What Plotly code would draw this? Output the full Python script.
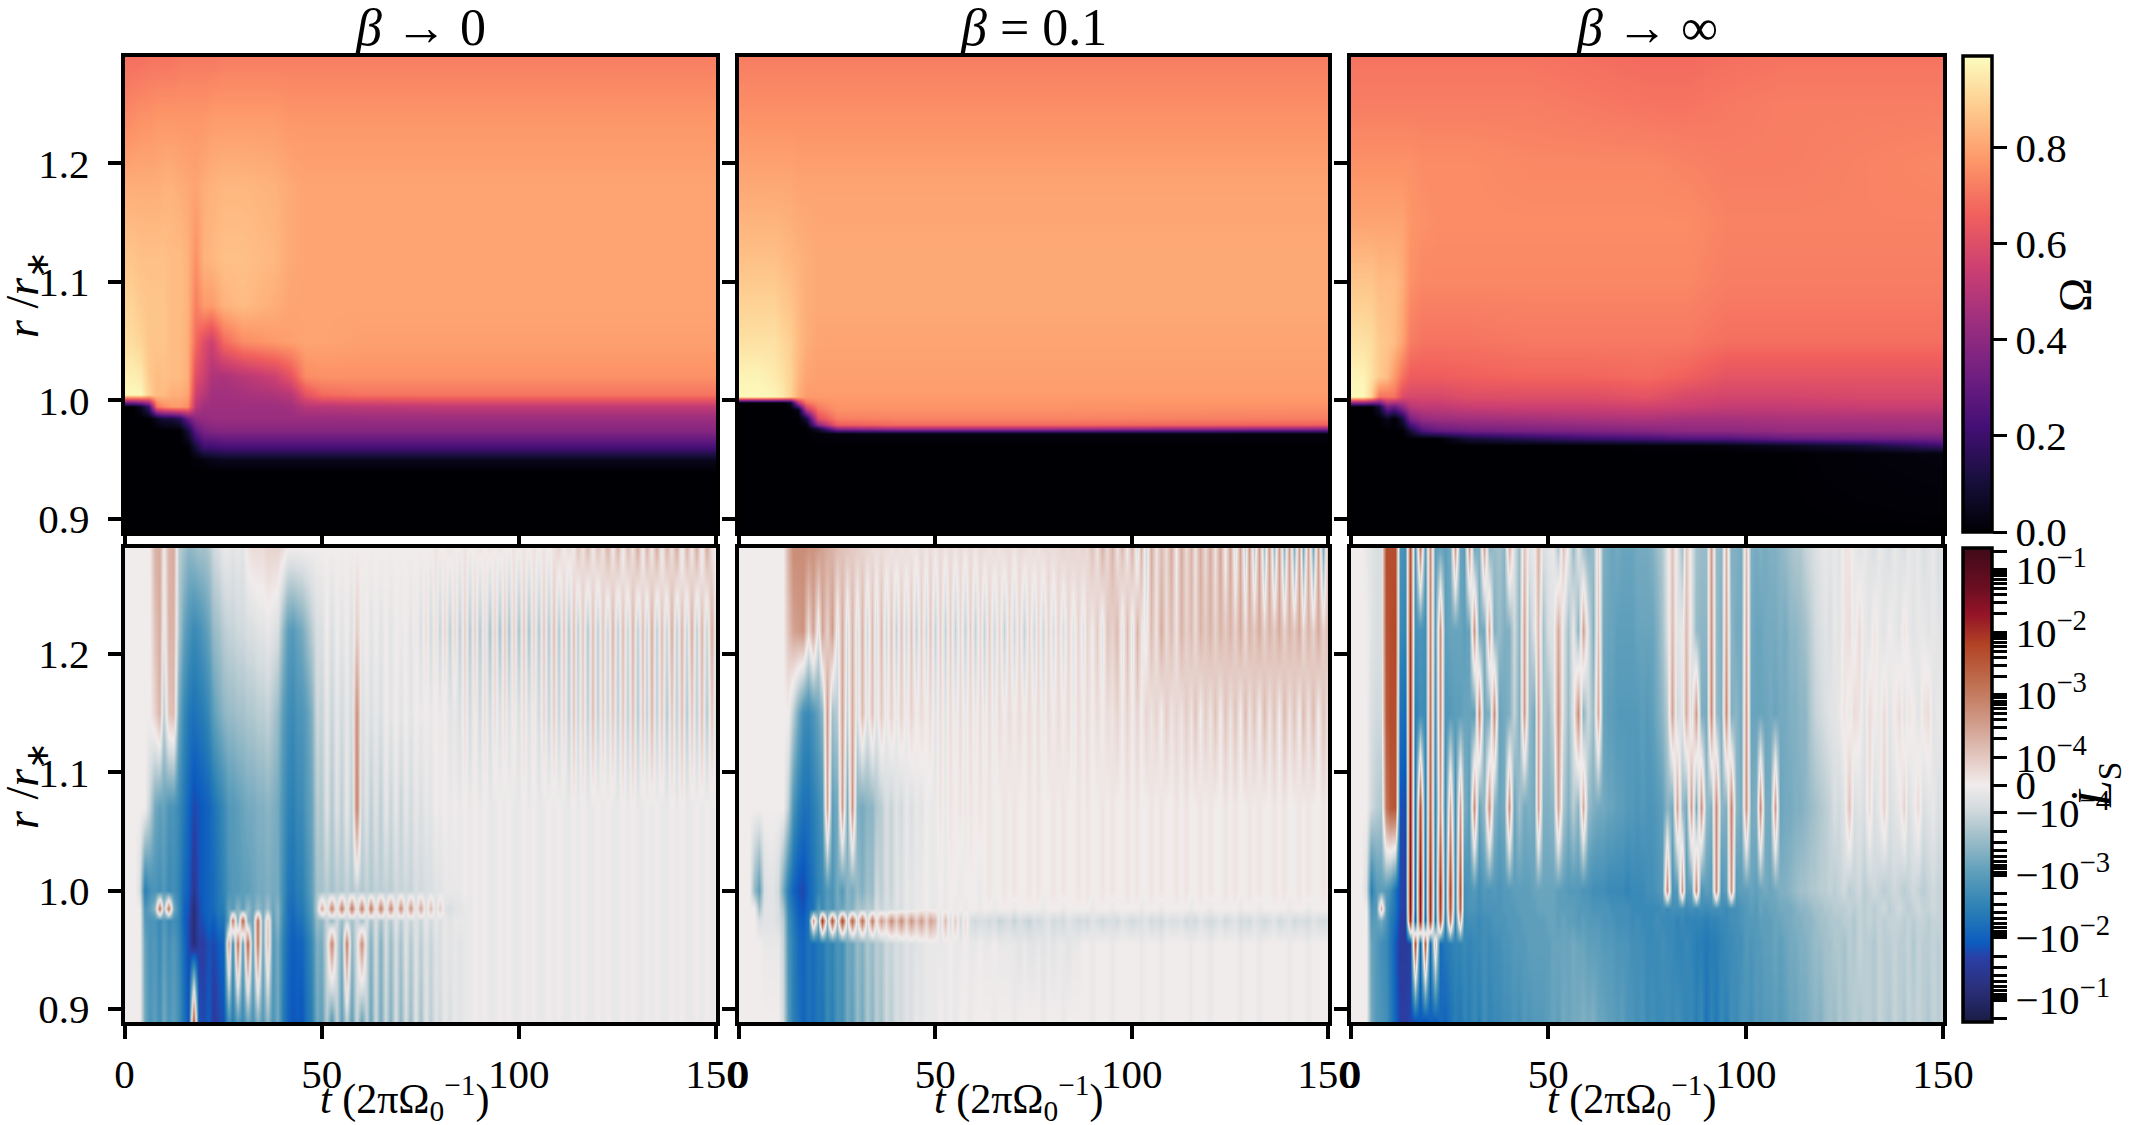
import math
import plotly.graph_objects as go

W, H = 2130, 1125
FONT = "Liberation Serif"

# ---------- upper row: Omega(t, r) ----------
T_O1 = [0,2,4,6,8,10,12,14,16,18,20,22,25,30,38,42,46,50,60,80,100,125,150]
R_O1 = [.89,.94,.95,.96,.975,.985,.995,1.005,1.02,1.05,1.08,1.12,1.18,1.24,1.29]
OMEGA_1 = [
 [0]*23,
 [0]*23,
 [0,0,0,0,0,0,0,0,0,.01,.02,.04,.05,.05,.05,.05,.05,.05,.05,.05,.05,.05,.05],
 [0,0,0,0,0,0,0,0,0,.1,.2,.2,.22,.22,.22,.22,.22,.22,.22,.22,.22,.22,.22],
 [0,0,0,0,0,0,0,0,.1,.28,.35,.37,.38,.38,.38,.38,.38,.38,.38,.38,.38,.38,.38],
 [0,0,0,0,.05,.1,.1,.15,.3,.4,.42,.43,.43,.43,.43,.43,.43,.43,.43,.43,.43,.43,.43],
 [0,0,.05,.2,.7,.75,.78,.78,.75,.5,.45,.44,.44,.44,.44,.45,.5,.5,.51,.52,.52,.52,.52],
 [.98,.98,.98,.9,.85,.85,.82,.82,.8,.55,.5,.45,.45,.46,.48,.5,.62,.68,.7,.7,.7,.7,.7],
 [.96,.96,.95,.88,.85,.86,.85,.85,.82,.6,.55,.48,.47,.5,.55,.62,.75,.76,.76,.76,.76,.76,.76],
 [.92,.92,.9,.87,.87,.87,.85,.85,.82,.68,.6,.55,.68,.75,.78,.79,.8,.8,.79,.79,.79,.79,.79],
 [.9,.9,.88,.87,.87,.87,.85,.85,.83,.72,.78,.78,.83,.85,.82,.8,.8,.8,.8,.8,.8,.8,.8],
 [.87,.87,.86,.86,.86,.86,.85,.85,.83,.76,.83,.84,.86,.86,.84,.81,.8,.8,.8,.8,.8,.8,.8],
 [.82,.82,.82,.82,.82,.83,.83,.82,.81,.8,.82,.83,.84,.84,.83,.81,.8,.8,.8,.8,.8,.8,.8],
 [.74,.75,.76,.76,.77,.77,.77,.77,.77,.77,.77,.78,.78,.78,.78,.77,.77,.77,.77,.77,.77,.77,.77],
 [.69,.69,.69,.7,.7,.7,.7,.71,.71,.71,.71,.71,.72,.72,.72,.72,.72,.72,.72,.72,.72,.72,.72],
]

T_O2 = [0,3,5,7,9,11,13,15,17,20,25,40,80,150]
R_O2 = [.89,.96,.972,.976,.98,.985,.992,.998,1.003,1.02,1.05,1.08,1.12,1.18,1.24,1.29]
OMEGA_2 = [
 [0]*14,
 [0]*14,
 [0,0,0,0,0,0,0,0,0,.01,.02,.02,.02,.02],
 [0,0,0,0,0,0,0,0,0,.1,.4,.45,.45,.4],
 [0,0,0,0,0,0,0,0,.02,.4,.65,.68,.68,.66],
 [0,0,0,0,0,0,0,0,.1,.6,.72,.73,.73,.72],
 [0,0,0,0,0,0,0,.03,.5,.7,.76,.76,.76,.75],
 [0,0,0,0,0,0,.05,.5,.7,.75,.77,.77,.77,.77],
 [.98,.98,.98,.98,.97,.95,.9,.82,.78,.78,.78,.78,.78,.78],
 [.97,.97,.97,.96,.95,.93,.9,.84,.8,.79,.79,.79,.79,.79],
 [.93,.93,.93,.93,.93,.91,.89,.85,.82,.8,.8,.8,.8,.8],
 [.9,.9,.9,.9,.9,.88,.87,.84,.82,.81,.81,.81,.81,.81],
 [.86,.86,.86,.86,.86,.85,.84,.83,.82,.81,.81,.81,.81,.81],
 [.81,.81,.81,.81,.81,.81,.81,.8,.8,.8,.8,.8,.8,.8],
 [.76,.76,.76,.76,.76,.76,.76,.76,.76,.76,.76,.76,.76,.76],
 [.72,.72,.72,.72,.72,.72,.72,.72,.72,.72,.72,.72,.72,.72],
]

T_O3 = [0,3,5,7,9,11,13,15,18,22,30,45,60,75,85,95,110,130,150]
R_O3 = [.89,.955,.962,.968,.975,.985,.995,1.003,1.02,1.05,1.1,1.15,1.2,1.25,1.29]
OMEGA_3 = [
 [0]*19,
 [0,0,0,0,0,0,0,0,0,0,0,0,0,0,0,0,0,.01,.02],
 [0,0,0,0,0,0,0,0,0,0,0,0,0,.01,.01,.02,.05,.1,.2],
 [0,0,0,0,0,0,0,0,0,0,.1,.15,.2,.22,.25,.25,.3,.32,.33],
 [0,0,0,0,0,0,0,.1,.25,.3,.33,.35,.36,.38,.4,.4,.42,.42,.43],
 [0,0,0,0,.05,0,.1,.35,.42,.44,.45,.46,.47,.48,.46,.46,.47,.47,.47],
 [0,0,0,.1,.35,.3,.4,.5,.52,.52,.54,.55,.55,.56,.55,.53,.53,.54,.54],
 [.98,.98,.9,.7,.7,.7,.6,.58,.58,.58,.6,.6,.6,.62,.58,.57,.57,.58,.58],
 [.97,.97,.93,.88,.85,.78,.7,.65,.65,.65,.66,.67,.67,.68,.66,.62,.62,.62,.62],
 [.93,.93,.92,.88,.87,.85,.8,.72,.7,.7,.7,.71,.71,.71,.71,.69,.69,.69,.69],
 [.87,.87,.87,.85,.85,.85,.82,.76,.74,.74,.74,.74,.74,.74,.74,.72,.72,.72,.72],
 [.8,.8,.8,.8,.8,.8,.8,.77,.76,.75,.75,.75,.75,.75,.75,.73,.73,.73,.73],
 [.76,.76,.76,.76,.76,.76,.76,.76,.75,.75,.75,.74,.74,.74,.73,.72,.72,.73,.74],
 [.72,.72,.72,.72,.72,.72,.72,.72,.72,.72,.72,.72,.71,.7,.7,.71,.72,.72,.72],
 [.7,.7,.7,.7,.7,.7,.7,.7,.7,.7,.7,.7,.69,.68,.68,.69,.7,.7,.7],
]

# ---------- lower row: L_S(t, r), read as position on the symlog colour scale, in tenths ----------
T_L = [i * 1.25 for i in range(121)]   # time columns, every 1.25 units
R_L = [.89,.955,.975,.985,1.0,1.07,1.15,1.22,1.29]

Z10 = [0,0,0,0,0,0,0,0,0,0]
Q1 = [-1,0,-1,0,-1,-1,0,-1,0,-1]
Q2 = [0,0,-1,0,0,0,-1,0,0,0]
P2 = [0,1,0,0,1,0,1,0,0,1]

LS_1 = [
 [0,0,0,0,-12,-16,-14,-17,-12,-16, -14,-17,-22,-26,20,-26,-27,-25,-29,-27, -26,-16,-20,-14,-18,-12,-16,-10,-15,-9,
  -16,-12,-20,-24,-26,-25,-26,-22,-20,-12, -14,-6,-15,-5,-14,-5,-14,-4,-13,-5, -13,-4,-12,-4,-11,-3,-10,-3,-9,-2,
  -8,-2,-6,-2,-4,-1,-3,-1,-2,-1] + Q1*5 + [0],
 [0,0,0,0,-13,-16,-15,-18,-14,-17, -15,-18,-23,-27,-33,-28,-28,-26,-27,-25, -24,10,-18,16,-15,18,-14,15,-13,6,
  -15,-12,-19,-23,-25,-24,-24,-21,-18,-11, -12,-4,13,-4,-12,14,-10,-3,12,-4, -11,-3,-11,-3,-9,-3,-8,-2,-7,-2,
  -6,-2,-5,-2,-3,-1,-2,-1,-2,-1] + Q1*5 + [0],
 [0,0,0,0,-15,-16,-16,-18,-15,-18, -17,-19,-24,-27,-33,-27,-26,-24,-25,-22, -22,-12,15,-12,18,-10,-13,16,-12,5,
  -14,-10,-18,-22,-24,-22,-22,-19,-16,-9, -10,-5,-9,-4,-9,-4,-8,-4,-8,-3, -8,-3,-8,-3,-7,-2,-6,-2,-5,-2,
  -5,-1,-4,-1,-3,-1,-2,-1,-1,-1] + Q1*5 + [0],
 [0,0,0,0,-16,-14,-10,16,-8,15, -12,-18,-24,-26,-33,-27,-25,-24,-23,-21, -20,-13,-15,-10,-14,-9,-13,-9,-12,-8,
  -13,-10,-17,-22,-23,-21,-21,-18,-15,-6, 8,-2,13,-2,14,-3,15,-2,14,-3, 15,-2,14,-2,13,-3,12,-3,11,-3,
  9,-3,6,-3,4,-2,-3,-2,-2,-1] + Q1*5 + [0],
 [0,0,0,-3,-20,-17,-16,-17,-15,-18, -17,-19,-23,-25,-30,-26,-25,-24,-23,-21, -19,-16,-15,-15,-14,-14,-13,-12,-12,-11,
  -12,-12,-17,-21,-22,-20,-20,-17,-14,-8, -8,-6,-8,-6,-7,-5,-7,-5,-7,-5, -7,-5,-6,-5,-6,-4,-5,-4,-5,-3,
  -4,-3,-3,-2,-2,-1,-1,-1,-1,0] + Q1*5 + [0],
 [0,0,0,0,0,-5,-12,-14,-13,-16, -16,-18,-21,-24,-27,-26,-25,-24,-22,-20, -18,-15,-15,-14,-13,-12,-12,-11,-11,-10,
  -11,-12,-16,-19,-20,-18,-18,-15,-13,-6, -7,-2,-7,-2,-6,-1,-6,14,-5,-2, -6,-2,-6,-1,-5,-1,-5,-1,-4,-1,
  -3,-1,-2,0,-1,0,-1,0,-1,0] + Q1*5 + [0],
 [0,0,0,0,0,0,3,7,-6,5, 6,-12,-18,-21,-22,-21,-20,-18,-14,-12, -10,-9,-9,-8,-8,-7,-7,-6,-6,-5,
  -7,-9,-14,-17,-18,-16,-16,-14,-11,-4, -5,-1,-5,-1,-4,-1,-4,12,-3,-1, -3,-1,-3,0,-2,0,-2,0,-2,0,
  -1,0,-1,0,-1,0,-2,-1,-3,2, -4,1,-4,2,-4,2,-3,2,-3,1, -3,2,-3,1,-4,3,-5,4,-5,3,
  -6,5,-5,4,-6,6,-6,4,-5,5, -6,5,-6,6,-7,5,-6,7,-6,5, -7,5,-6,6,-7,5,-6,6,-7,5, -5],
 [0,0,0,0,0,0,5,8,-2,7, 7,-7,-13,-16,-18,-17,-15,-13,-9,-8, -6,-5,-5,-4,-4,-3,-3,-2,-2,-1,
  -2,-3,-9,-14,-15,-13,-12,-9,-6,-3, -3,0,-3,0,-2,0,-3,4,-1,0, -2,0,-2,0,-2,0,-1,0,-2,1,
  -3,2,-4,2,-5,3,-6,3,-6,4, -7,4,-7,3,-8,4,-8,5,-8,4, -8,5,-8,4,-7,5,-7,6,-7,5,
  -7,6,-6,5,-7,6,-6,5,-5,7, -6,6,-5,7,-6,6,-5,8,-6,6, -5,8,-6,7,-5,8,-6,7,-5,8, -4],
 [0,0,0,0,0,0,7,8,0,7, 8,-6,-8,-10,-9,-8,-8,-7,-4,-3, -1,-1,-2,-1,-2,1,2,2,2,3,
  3,3,2,0,0,0,0,0,0,0] + Z10*2 +
 [0,0,0,1,0,0,1,0,0,1, 0,0,1,0,1,0,1,0,0,1, 0,1,0,1,0,1,0,1,3,0,
  2,0,5,1,6,0,5,1,7,0, 7,-1,6,1,8,-1,7,0,8,-1, 7,1,8,-2,7,0,8,-2,8,1, 0],
]

LS_2 = [
 [0,0,0,0,0,0,0,0,0,-4, -15,-20,-22,-24,-22,-23,-21,-22,-18,-20, -16,-17,-12,-14,-9,-12,-7,-10,-6,-8,
  -4,-6,-3,-4,-2,-3,-1,-2,-1,-1, -1,0,-1,0,-1,0,0,-1,0,0] + Q2*7 + [0],
 [0,0,0,0,0,-1,-1,-1,-1,-5, -16,-20,-23,-24,-22,-23,-21,-21,-18,-19, -16,-17,-12,-13,-9,-11,-7,-9,-6,-7,
  -4,-5,-3,-4,-2,-3,-2,-2,-1,-1, -1,-1,-1,0,-1,-1,0,-1,-1,0, -1,-1,0,-1,-1,-1,-1,-2,-1,-2,
  -2,-1,-2,-1,-2,-1,-1,-2,-1,-1] + Q2*5 + [0],
 [0,0,0,0,-3,-2,-2,-2,-3,-6, -17,-21,-24,-25,-22,10,-10,24,-8,20, -6,22,-4,18,-2,16,-3,14,0,10,
  3,12,4,12,3,11,4,10,3,9, 6,-3,6,-3,4,-4,2,-3,-4,-3, -3,-4,-3,-5,-4,-3,-5,-3,-4,-5,
  -3,-4,-3,-2,-4,-3,-4,-2,-3,-4, -3,-4,-2,-3,-4,-3,-3,-4,-2,-3, -4,-3,-3,-2,-4,-3,-4,-2,-3,-3,
  -2,-4,-3,-4,-2,-3,-4,-3,-2,-4, -3,-2,-4,-3,-4,-2,-3,-4,-3,-2, -4,-3,-2,-4,-3,-3,-4,-2,-3,-4, -3],
 [0,0,0,0,-8,-2,-2,-2,-3,-8, -18,-22,-25,-26,-23,-22,-15,-18,-14,-16, -12,-13,-10,-11,-7,-8,-6,-7,-3,-5,
  -3,-4,-2,-3,-1,-2,-1,-1,0,-1, -1,0,-1,0,-1,0,-1,0,0,-1] + Q2*7 + [0],
 [0,0,0,-9,-14,-3,-2,-2,-4,-12, -20,-24,-26,-27,-24,-22,-19,-18,-15,-16, -12,-15,-10,-12,-9,-11,-8,-9,-4,-6,
  -3,-5,-2,-3,-1,-2,-1,-1,0,-1, -1,0,-1,0,0,-1,0,0,0,-1] + P2*7 + [0],
 Z10 + [-6,-16,-20,-22,-22,-20,-18,-16,9,-14, -12,10,-12,11,-11,-12,-10,-10,-7,-6,
  -3,-5,-2,-4,-1,-3,-1,-2,0,-1, -1,1,-1,1,0,1,-1,1,0,1] + P2*7 + [0],
 Z10 + [0,-6,-12,-17,-18,-16,-13,-10,10,-8, -6,9,-5,8,-3,6,-2,5,-2,4,
  -1,3,-1,3,-1,3,0,2,0,2, -2,2,-2,2,-1,2,-1,2,-1,2, -1,2,-1,2,0,2,0,2,0,2,
  0,2,-1,2,0,2,0,2,-1,2, 0,2,0,2,0,2,1,3,0,3, 0,3,0,3,1,3,0,4,1,3,
  1,4,1,5,0,4,1,5,0,5, 1,5,0,6,1,5,0,6,1,5, 0,6,1,5,0,6,1,6,0,5, 1],
 Z10 + [5,9,10,11,2,9,-2,9,3,10, -2,8,-3,7,-3,7,-4,6,-3,6,
  -4,5,-5,5,-4,5,-5,4,-4,5, -5,4,-5,4,-5,3,-5,4,-5,3, -5,4,-4,3,-5,3,-4,3,-5,3,
  -4,3,-4,3,-3,3,-3,3,-2,3, -2,3,0,4,-2,5,3,6,-2,6, -2,7,1,-1,6,1,8,2,6,1,
  7,3,6,2,7,4,7,3,7,4, 7,3,8,2,7,4,8,3,7,4, 8,3,7,4,8,2,7,3,8,3, 6],
 Z10 + [7,12,12,12,11,11,10,9,8,7, 6,5,5,4,4,3,3,2,2,2,
  2,1,2,1,2,1,1,2,1,2, 1,2,1,2,1,2,1,2,1,2, 2,1,2,1,2,2,1,2,2,1,
  2,1,2,2,2,2,3,2,3,2, 3,2,5,1,7,2,7,1,6,0, 7,-3,7,-4,8,1,6,2,8,0,
  8,2,7,1,8,2,8,1,9,-1, 9,-3,9,-5,10,-6,10,-8,10,-9, 10,-10,10,-11,10,-12,9,-12,10,-12, 9],
]

LS_3 = [
 [0,0,0,0,-12,-15,-16,-17,-20,-24, -28,-28,-27,-26,-25,-26,-24,-25,-23,-24, -22,-20,-21,-19,-20,-18,-20,-17,-19,-18,
  -18,-17,-17,-16,-17,-15,-16,-15,-15,-15, -14,-13,-14,-12,-13,-12,-12,-11,-12,-11, -13,-13,-14,-14,-15,-14,-16,-16,-17,-16,
  -18,-17,-18,-18,-17,-18,-17,-18,-19,-18, -20,-18,-22,-19,-21,-18,-20,-17,-18,-16, -16,-17,-15,-16,-15,-15,-14,-15,-14,-13,
  -13,-12,-12,-11,-10,-11,-9,-8,-9,-7, -8,-7,-6,-7,-6,-6,-7,-5,-6,-7, -5,-6,-7,-5,-6,-5,-6,-7,-5,-6, -5],
 [0,0,0,0,-13,-15,-17,-18,-21,-25, -29,-29,-28,20,-25,18,-24,5,-23,-21, -20,-19,-19,-18,-19,-18,-18,-17,-18,-17,
  -17,-16,-16,-15,-15,-15,-14,-14,-14,-14, -14,-13,-13,-13,-13,-12,-13,-13,-14,-14, -14,-15,-15,-15,-16,-16,-16,-17,-17,-17,
  -18,-18,-18,-17,-18,-18,-19,-19,-18,-19, -20,-20,-21,-20,-20,-19,-18,-18,-17,-17, -15,-16,-15,-15,-14,-14,-13,-14,-13,-12,
  -12,-11,-11,-10,-9,-9,-8,-8,-7,-7, -8,-6,-7,-5,-6,-6,-7,-5,-6,-6, -5,-6,-6,-5,-7,-5,-6,-6,-5,-6, -5],
 [0,0,0,0,-15,-14,-12,-16,-20,-23, -28,-29,26,-25,28,-23,24,-21,20,-20, 14,-19,8,-18,-17,-17,-18,-17,-17,-16,
  -16,-16,-15,-15,-15,-14,-14,-14,-14,-14, -13,-13,-14,-13,-14,-14,-15,-14,-15,-15, -15,-16,-16,-16,-17,-17,-17,-18,-17,-18,
  -18,-18,-17,-18,-18,-18,-19,-18,-19,-19, -19,-19,-20,-19,-19,-18,-18,-17,-17,-16, -15,-15,-15,-14,-14,-14,-13,-13,-12,-12,
  -11,-11,-10,-10,-9,-8,-8,-7,-7,-7, -6,-6,-7,-5,-6,-5,-6,-5,-6,-5, -5,-5,-6,-5,-6,-5,-5,-6,-5,-5, -5],
 [0,0,0,0,-16,-15,8,-15,-19,-22, -27,-28,29,-23,28,-22,25,-20,23,-19, 20,-18,18,-17,-16,-16,-17,-16,-16,-16,
  -16,-15,-15,-15,-14,-14,-14,-14,-13,-13, -13,-13,-14,-14,-14,-14,-15,-15,-15,-16, -16,-16,-16,-17,-17,-17,-17,-18,-18,-18,
  -18,-18,-18,-17,-18,-17,-17,-17,-18,-17, -18,-17,-18,-17,-17,-17,-18,-17,-17,-16, -15,-14,-15,-13,-14,-13,-13,-12,-12,-12,
  -11,-10,-10,-9,-8,-8,-7,-7,-6,-6, -6,-5,-6,-5,-6,-5,-6,-5,-4,-6, -5,-4,-5,-6,-5,-4,-5,-5,-4,-5, -5],
 [0,0,0,-3,-20,-15,-14,-15,-17,-22, -27,-28,30,-23,29,-22,25,-20,24,-19, 22,-18,20,-17,-16,-15,-17,-15,-16,-15,
  -16,-15,-15,-14,-14,-14,-14,-13,-13,-13, -13,-13,-14,-14,-15,-15,-15,-16,-16,-17, -17,-17,-18,-18,-18,-18,-19,-18,-18,-18,
  -17,-17,-16,-15,12,-16,-15,10,-15,-14, 12,-16,-14,-15,12,-16,-14,11,-15,-14, -14,-13,-14,-13,-12,-13,-12,-11,-11,-10,
  -9,-8,-8,-7,-7,-6,-6,-5,-6,-5, -4,-6,-5,-4,-6,-5,-4,-5,-6,-5, -4,-5,-6,-5,-4,-5,-6,-5,-4,-5, -5],
 [0,0,0,0,-4,-6,-7,15,19,20, -26,-27,27,-22,20,-20,18,-19,10,-18, 8,-17,9,-11,-14,12,-13,-9,11,-10,
  -13,-12,11,-13,-8,-12,-11,-12,9,-11, -11,-10,9,-7,-11,-6,-10,8,-9,-11, -12,-12,-13,-13,-14,-14,-15,-15,-16,-15,
  -16,-16,-15,-14,-10,-12,9,-9,-12,10, -12,11,-9,-11,12,-10,-11,13,-10,-12, 11,-12,-11,12,-12,-12,10,-13,-12,-12,
  -11,-11,-10,-9,-8,-7,-6,-5,-3,-4, -2,5,-3,-2,-3,2,-3,-1,3,-3, -2,-1,3,-3,-1,2,-3,-2,-1,-3, -2],
 [0,0,0,0,-3,-4,-4,19,21,21, -22,-23,25,-20,-17,-18,15,-17,12,-16, -15,-14,-14,-13,-13,-14,12,-12,-11,12,
  -13,-12,-11,-5,-11,10,-9,-12,9,-8, -9,-4,11,-3,-9,-2,12,-10,-4,-9, 8,-13,-14,-14,-15,-15,-15,-15,-15,-14,
  -15,-14,-12,-10,-6,9,-4,-2,8,-3, 10,-11,-12,12,-9,-11,12,-11,-10,-12, 10,-13,-13,-13,-13,-12,-13,-12,-12,-11,
  -11,-10,-10,-7,-5,-4,-3,-2,-2,-1, 1,-1,2,1,-2,2,0,-1,2,-2, 0,2,-2,1,0,-2,1,2,-2,-1, -2],
 [0,0,0,0,-2,-3,-3,20,21,22, -18,-19,23,-17,-16,-17,13,-15,11,-14, -13,-13,-13,-14,-13,11,-12,-12,8,-11,
  -9,-11,-11,-4,-10,9,-7,-2,6,-8, -3,-2,8,-2,-8,-1,-10,9,-3,-11, 5,-12,-13,-13,-14,-14,-14,-14,-13,-13,
  -13,-13,-11,-8,-3,6,-2,-1,6,-2, -9,-10,-10,11,-9,-11,9,-10,-12,-12, 8,-12,-13,-13,-12,-12,-12,-11,-12,-10,
  -10,-9,-8,-6,-4,-3,-2,-3,-1,-2, 1,2,-1,2,-1,-2,1,-1,-2,0, -1,-2,1,-1,-2,-1,-1,-2,-1,-2, -2],
 [0,0,0,-1,-2,-3,-3,21,21,21, -16,-17,20,-16,14,-15,12,-14,-13,-14, -12,10,-13,-14,10,-12,-11,9,-10,-9,
  -8,-10,7,-3,-9,5,-2,-1,7,-3, -2,-1,-7,5,-1,-9,-2,-8,-10,-9, 3,-11,-12,-13,-12,-13,-13,-13,-12,-12,
  -12,-11,-9,-7,-2,5,-2,-8,5,-2, -8,-9,-9,10,-9,-10,7,-11,-11,-12, 6,-11,-12,-11,-12,-11,-11,-10,-9,-8,
  -7,-7,-5,-4,-3,-2,-1,-2,-1,-2, 1,1,-1,-2,-1,-2,-3,-1,-2,-3, -1,-2,-3,-1,-2,-1,-3,-2,-1,-3, -2],
]
for _m in (LS_1, LS_2, LS_3):
    assert all(len(_r) == len(T_L) for _r in _m), [len(_r) for _r in _m]

TITLES = ["<i>β</i> → 0", "<i>β</i> = 0.1", "<i>β</i> → ∞"]
T_TICKS = [0, 50, 100, 150]
R_TICKS = [0.9, 1.0, 1.1, 1.2]
R_TICK_LABELS = ["0.9", "1.0", "1.1", "1.2"]
OMEGA_TICKS = [0.0, 0.2, 0.4, 0.6, 0.8]
OMEGA_MAX = 0.99

MAGMA = ["#000004","#180f3d","#440f76","#721f81","#9e2f7f","#cd4071","#f1605d","#fd9668","#feca8d","#fcfdbf"]
BALANCE = [(0,"#1a1c45"),(.07,"#2a2f7a"),(.135,"#2a3fa5"),(.167,"#0c5cc0"),(.238,"#2a80b5"),
           (.317,"#5f9fbb"),(.397,"#a6c2cb"),(.453,"#d5dcdf"),(.5,"#f1ecec"),(.557,"#e3c9c2"),
           (.636,"#cf9986"),(.715,"#bf6f50"),(.795,"#b24425"),(.859,"#951428"),(.914,"#6d0e22"),(1,"#3f0a18")]
LS_LIM = 3.79          # colour-scale half range, in symlog units
LINTHRESH, LINSCALE = 1e-4, 0.44

def symlog(v):
    if v == 0:
        return 0.0
    return math.copysign(math.log10(abs(v) / LINTHRESH) + LINSCALE, v)

major = [-1e-1, -1e-2, -1e-3, -1e-4, 0, 1e-4, 1e-3, 1e-2, 1e-1]
major_text = ["−10<sup>−1</sup>", "−10<sup>−2</sup>", "−10<sup>−3</sup>", "−10<sup>−4</sup>", "0",
              "10<sup>−4</sup>", "10<sup>−3</sup>", "10<sup>−2</sup>", "10<sup>−1</sup>"]
ls_vals, ls_text = [symlog(v) for v in major], list(major_text)
for e in (-4, -3, -2, -1):
    for m in range(2, 10):
        for sgn in (1, -1):
            v = sgn * m * 10.0 ** e
            if abs(symlog(v)) <= LS_LIM:
                ls_vals.append(symlog(v))
                ls_text.append("")

# ---------- geometry in page pixels ----------
PANEL_X = [(124.5, 716), (739, 1328), (1351, 1943)]
ROW_Y = [(56.5, 532), (547.5, 1022)]
CB_X = 1963
CB_W = 29

fx = lambda px: px / W
fy = lambda py: 1 - py / H
tickfont = dict(family=FONT, size=41, color="black")

fig = go.Figure()
AX = dict(showgrid=False, zeroline=False, showline=True, mirror=True, linecolor="black", linewidth=3.5,
          ticks="outside", ticklen=13, tickwidth=3.5, tickcolor="black", tickfont=tickfont)

OMEGA_SETS = [(T_O1, R_O1, OMEGA_1), (T_O2, R_O2, OMEGA_2), (T_O3, R_O3, OMEGA_3)]
LS_SETS = [LS_1, LS_2, LS_3]
layout = {}
for row in range(2):
    for col in range(3):
        n = row * 3 + col + 1
        xa, ya = f"xaxis{n}", f"yaxis{n}"
        layout[xa] = dict(AX, domain=[fx(PANEL_X[col][0]), fx(PANEL_X[col][1])], range=[0, 150],
                          tickvals=T_TICKS, ticktext=[str(t) for t in T_TICKS] if row else [""] * 4,
                          anchor=f"y{n}")
        layout[ya] = dict(AX, domain=[fy(ROW_Y[row][1]), fy(ROW_Y[row][0])], range=[0.889, 1.29],
                          tickvals=R_TICKS, ticktext=R_TICK_LABELS if col == 0 else [""] * 4,
                          anchor=f"x{n}", ticklabelstandoff=10)
        if row == 0:
            t, r, z = OMEGA_SETS[col]
            fig.add_trace(go.Heatmap(x=t, y=r, z=z, coloraxis="coloraxis", zsmooth="best",
                                     xaxis=f"x{n}", yaxis=f"y{n}"))
        else:
            z = [[c / 10 for c in line] for line in LS_SETS[col]]
            fig.add_trace(go.Heatmap(x=T_L, y=R_L, z=z, coloraxis="coloraxis2", zsmooth="best",
                                     xaxis=f"x{n}", yaxis=f"y{n}"))

def cbar(ytop, ybot, **kw):
    return dict(x=fx(CB_X), xanchor="left", xpad=0, ypad=0, thickness=CB_W, thicknessmode="pixels",
                y=fy(ybot), yanchor="bottom", len=(ybot - ytop) / H, lenmode="fraction",
                outlinecolor="black", outlinewidth=3.5, ticks="outside", ticklen=14, tickwidth=3,
                tickcolor="black", tickfont=tickfont, **kw)

layout["coloraxis"] = dict(cmin=0, cmax=OMEGA_MAX, colorscale=MAGMA,
                           colorbar=cbar(ROW_Y[0][0], ROW_Y[0][1], tickmode="array", tickvals=OMEGA_TICKS,
                                         ticktext=[f"{v:.1f}" for v in OMEGA_TICKS]))
layout["coloraxis2"] = dict(cmin=-LS_LIM, cmax=LS_LIM, colorscale=BALANCE,
                            colorbar=cbar(ROW_Y[1][0], ROW_Y[1][1], tickmode="array", tickvals=ls_vals,
                                          ticktext=ls_text))

ann = []
def text(x, y, s, size=41, angle=0):
    ann.append(dict(x=fx(x), y=fy(y), xref="paper", yref="paper", text=s, showarrow=False, textangle=angle,
                    xanchor="center", yanchor="middle", font=dict(family=FONT, size=size, color="black")))

for col in range(3):
    cx = sum(PANEL_X[col]) / 2
    text(cx, 27, TITLES[col], size=52)
    text(cx - 15, 1098, "<i>t</i> (2πΩ<sub>0</sub><sup>−1</sup>)", size=42)
text(26, 295, "<i>r</i> /<i>r</i><sub>∗</sub>", size=46, angle=-90)
text(26, 786, "<i>r</i> /<i>r</i><sub>∗</sub>", size=46, angle=-90)
text(2075, 295, "Ω", size=46, angle=-90)
text(2098, 785, "<i>L̇</i><sub>S</sub>", size=48, angle=-90)

fig.update_layout(width=W, height=H, margin=dict(l=0, r=0, t=0, b=0, autoexpand=False),
                  paper_bgcolor="white", plot_bgcolor="white", showlegend=False,
                  annotations=ann, **layout)
fig.write_html("out.html", config={"displayModeBar": False},
               post_script="document.body.style.margin='0';document.body.style.overflow='hidden';")
